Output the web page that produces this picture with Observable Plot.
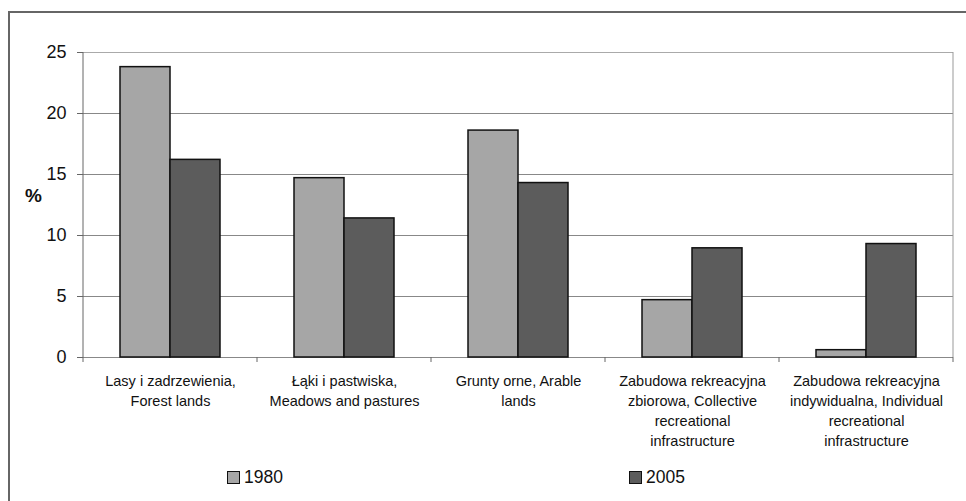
<!DOCTYPE html>
<html><head><meta charset="utf-8">
<script src="https://cdn.jsdelivr.net/npm/d3@7"></script>
<script src="https://cdn.jsdelivr.net/npm/@observablehq/plot@0.6"></script>
<style>
body{margin:0;background:#fff;font-family:"Liberation Sans",Arial,sans-serif;}
#wrap{position:relative;width:966px;height:501px;overflow:hidden;background:#fff;}
#frame{position:absolute;left:8px;top:11px;width:1200px;height:800px;border-left:2px solid #666;border-top:2px solid #666;}
#ylab{position:absolute;left:25px;top:186px;font-size:19px;font-weight:bold;line-height:19px;color:#111;}
.leg{position:absolute;top:469px;font-size:17.5px;line-height:17px;color:#111;white-space:nowrap;}
.sw{display:inline-block;width:11px;height:11px;border:1px solid #111;margin-right:4px;vertical-align:-1px;}
#wrap svg{position:absolute;left:0;top:0;}
</style>
</head><body>
<div id="wrap"><div id="frame"></div></div>
<script>
const categories = [
  "Lasy i zadrzewienia,\nForest lands",
  "Łąki i pastwiska,\nMeadows and pastures",
  "Grunty orne, Arable\nlands",
  "Zabudowa rekreacyjna\nzbiorowa, Collective\nrecreational\ninfrastructure",
  "Zabudowa rekreacyjna\nindywidualna, Individual\nrecreational\ninfrastructure"
];
const years = ["1980", "2005"];
const values1980 = [23.8, 14.7, 18.6, 4.7, 0.6];
const values2005 = [16.2, 11.4, 14.3, 8.95, 9.3];
const yTicks = [0, 5, 10, 15, 20, 25];
const colors = ["#a6a6a6", "#5c5c5c"];

const data = categories.flatMap((c, i) => [
  {cat: c, year: years[0], v: values1980[i]},
  {cat: c, year: years[1], v: values2005[i]}
]);

const plot = Plot.plot({
  width: 966, height: 501,
  marginTop: 52, marginBottom: 144, marginLeft: 83, marginRight: 13,
  style: {fontFamily: '"Liberation Sans", Arial, sans-serif', background: "transparent", color: "#111"},
  fx: {domain: categories, padding: 0, label: null},
  x: {domain: years, paddingInner: 0, paddingOuter: 0.74, axis: null},
  y: {domain: [0, 25], label: null},
  color: {domain: years, range: colors},
  marks: [
    Plot.gridY(yTicks.slice(0, -1), {stroke: "#888", strokeOpacity: 1}),
    Plot.gridY(yTicks.slice(-1), {stroke: "#aaa", strokeOpacity: 1}),
    Plot.axisY(yTicks, {tickSize: 6, tickPadding: 11, fontSize: 18, label: null, color: "#111", stroke: "#666"}),
    Plot.axisFx({anchor: "bottom", tickSize: 0, tickPadding: 14, fontSize: 14.5, lineHeight: 1.38, label: null, color: "#111"}),
    Plot.barY(data, {fx: "cat", x: "year", y: "v", fill: "year", stroke: "#111", strokeWidth: 1.5})
  ]
});

const fx = plot.scale("fx"), y = plot.scale("y");
const svg = d3.select(plot);
const xs = categories.map(c => fx.apply(c));
xs.push(xs[xs.length - 1] + fx.bandwidth);
const y0 = y.apply(0), yTop = y.apply(25);
const g = svg.append("g");
xs.forEach(x => g.append("line").attr("x1", x).attr("x2", x).attr("y1", y0).attr("y2", y0 + 5).attr("stroke", "#666"));
g.append("line").attr("x1", xs[0]).attr("x2", xs[0]).attr("y1", yTop).attr("y2", y0).attr("stroke", "#666");
g.append("line").attr("x1", xs[xs.length-1]).attr("x2", xs[xs.length-1]).attr("y1", yTop).attr("y2", y0).attr("stroke", "#999");

const wrap = document.getElementById("wrap");
wrap.appendChild(plot);
const yl = document.createElement("div"); yl.id = "ylab"; yl.textContent = "%"; wrap.appendChild(yl);
const legPos = [227, 629];
years.forEach((yr, i) => {
  const d = document.createElement("div");
  d.className = "leg"; d.style.left = legPos[i] + "px";
  d.innerHTML = `<span class="sw" style="background:${colors[i]}"></span>${yr}`;
  wrap.appendChild(d);
});
</script>
</body></html>
